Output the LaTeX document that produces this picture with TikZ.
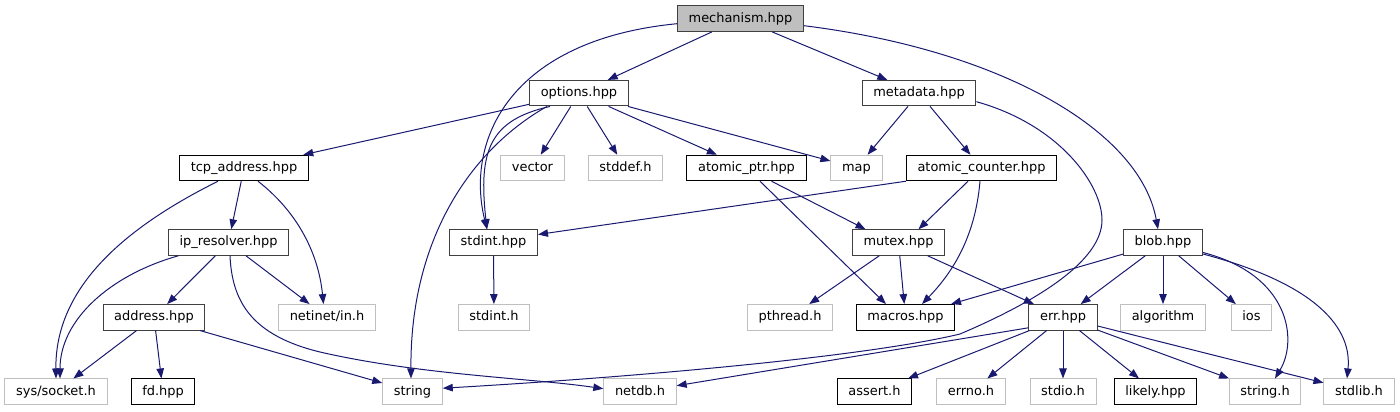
\documentclass[tikz,border=0pt]{standalone}
\usepackage{fontspec}
\setmainfont{DejaVu Sans}
\usetikzlibrary{arrows.meta,calc}
\definecolor{depblue}{HTML}{191970}

\begin{document}
\begin{tikzpicture}[x=0.75pt,y=-0.75pt,
  hdr/.style={draw=black!75, line width=0.75pt, fill=white, inner xsep=8.4pt, inner ysep=0pt,
    minimum height=19.1pt, text height=7.3pt, text depth=2.3pt, font=\fontsize{9.7}{11}\selectfont},
  hdrb/.style={hdr, draw=black},
  sys/.style={hdr, draw=black!25},
  root/.style={hdr, fill=black!25},
  dep/.style={draw=depblue, line width=0.75pt, -{Triangle[length=7.5pt,width=5.6pt]}}]
\useasboundingbox (0,0) rectangle (1400,411);

% Draw headers
\node[root] (mechanism) at (740.5,18.7) {mechanism.hpp};
\node[hdr] (options) at (579,93.2) {options.hpp};
\node[hdr] (metadata) at (919,93.2) {metadata.hpp};

\node[hdrb] (tcpaddr) at (244,168) {tcp\_address.hpp};
\node[sys] (vector) at (532.5,168) {vector};
\node[sys] (stddef) at (625.5,168) {stddef.h};
\node[hdrb] (atomicptr) at (746.5,168) {atomic\_ptr.hpp};
\node[sys] (map) at (856.5,168) {map};
\node[hdrb] (atomiccnt) at (981.5,168) {atomic\_counter.hpp};

\node[hdr] (ipres) at (228.5,242.5) {ip\_resolver.hpp};
\node[hdr] (stdinthpp) at (493.5,242.5) {stdint.hpp};
\node[hdr] (mutex) at (898.5,242.5) {mutex.hpp};
\node[hdr] (blob) at (1163,242.5) {blob.hpp};

\node[hdr] (address) at (154,317.3) {address.hpp};
\node[sys] (netinet) at (327,317.3) {netinet/in.h};
\node[sys] (stdinth) at (494,317.3) {stdint.h};
\node[sys] (pthread) at (790,317.3) {pthread.h};
\node[hdrb] (macros) at (905.5,317.3) {macros.hpp};
\node[hdr] (err) at (1063,317.3) {err.hpp};
\node[sys] (algorithm) at (1163,317.3) {algorithm};
\node[sys] (ios) at (1251.5,317.3) {ios};

\node[sys] (socket) at (56,391.7) {sys/socket.h};
\node[hdrb] (fd) at (163,391.7) {fd.hpp};
\node[sys] (string) at (412.5,391.7) {string};
\node[sys] (netdb) at (640,391.7) {netdb.h};
\node[hdrb] (assert) at (874.5,391.7) {assert.h};
\node[sys] (errno) at (971,391.7) {errno.h};
\node[sys] (stdio) at (1063,391.7) {stdio.h};
\node[hdrb] (likely) at (1155.5,391.7) {likely.hpp};
\node[sys] (stringh) at (1265,391.7) {string.h};
\node[sys] (stdlib) at (1359,391.7) {stdlib.h};

% Draw includes
\draw[dep] (mechanism) -- (options);
\draw[dep] (mechanism) -- (metadata);
\draw[dep] ($(mechanism.west)+(0,5)$) .. controls (510,40) and (465,140) .. ($(stdinthpp.north)+(-6.5,0)$);
\draw[dep] ($(mechanism.east)+(0,7)$) .. controls (1000,50) and (1140,130) .. ($(blob.north)+(-5,0)$);

\draw[dep] (options) -- (tcpaddr);
\draw[dep] (options) -- (vector);
\draw[dep] (options) -- (stddef);
\draw[dep] (options) -- (atomicptr);
\draw[dep] (options) -- (map);
\draw[dep] ($(options.south)+(-29,0)$) .. controls (490,120) and (478,150) .. ($(stdinthpp.north)+(-6.5,0)$);
\draw[dep] ($(options.south)+(-32,0)$) .. controls (470,150) and (410,240) .. ($(string.north)+(-1.5,0)$);

\draw[dep] (metadata) -- (map);
\draw[dep] (metadata) -- (atomiccnt);
\draw[dep] ($(metadata.east)+(0,8.5)$) .. controls (1060,125) and (1102,185) .. (1102,220)
  .. controls (1102,260) and (1040,300) .. (960,334)
  .. controls (860,358) and (620,378) .. ($(string.east)+(0,-3.5)$);

\draw[dep] (tcpaddr) -- (ipres);
\draw[dep] ($(tcpaddr.south)+(14,0)$) .. controls (295,210) and (318,250) .. ($(netinet.north)+(-3.5,0)$);
\draw[dep] ($(tcpaddr.south)+(-26,0)$) .. controls (120,230) and (55,290) .. (socket.north);

\draw[dep] (ipres) -- (address);
\draw[dep] (ipres) -- (netinet);
\draw[dep] ($(ipres.south)+(-50,0)$) .. controls (110,275) and (60,320) .. ($(socket.north)+(4,0)$);
\draw[dep] ($(ipres.south)+(1.5,0)$) .. controls (232,300) and (250,335) .. (320,352)
  .. controls (420,375) and (530,378) .. ($(netdb.west)+(0,-3)$);

\draw[dep] (address) -- (socket);
\draw[dep] (address) -- (fd);
\draw[dep] (address) -- (string);

\draw[dep] (stdinthpp) -- (stdinth);

\draw[dep] ($(atomicptr.south)+(25,0)$) -- ($(mutex.north)+(-33,0)$);
\draw[dep] ($(atomicptr.south)+(13.5,0)$) -- ($(macros.north)+(-19.5,0)$);

\draw[dep] (atomiccnt.south west) -- ($(stdinthpp.east)+(0,-8)$);
\draw[dep] ($(atomiccnt.south)+(-13.5,0)$) -- ($(mutex.north)+(20,0)$);
\draw[dep] ($(atomiccnt.south)+(-1.5,0)$) .. controls (975,240) and (950,275) .. ($(macros.north)+(16.5,0)$);

\draw[dep] (mutex) -- (pthread);
\draw[dep] (mutex) -- (macros);
\draw[dep] (mutex) -- (err);

\draw[dep] (blob) -- (macros);
\draw[dep] (blob) -- (err);
\draw[dep] (blob) -- (algorithm);
\draw[dep] (blob) -- (ios);
\draw[dep] ($(blob.east)+(0,10)$) .. controls (1290,275) and (1298,340) .. ($(stringh.north)+(10,0)$);
\draw[dep] ($(blob.east)+(0,11.5)$) .. controls (1320,285) and (1352,330) .. ($(stdlib.north)+(-12,0)$);

\draw[dep] ($(err.west)+(0,10.5)$) -- ($(netdb.east)+(0,-6)$);
\draw[dep] (err) -- (assert);
\draw[dep] (err) -- (errno);
\draw[dep] (err) -- (stdio);
\draw[dep] (err) -- (likely);
\draw[dep] (err) -- (stringh);
\draw[dep] (err) -- (stdlib);
\end{tikzpicture}
\end{document}
